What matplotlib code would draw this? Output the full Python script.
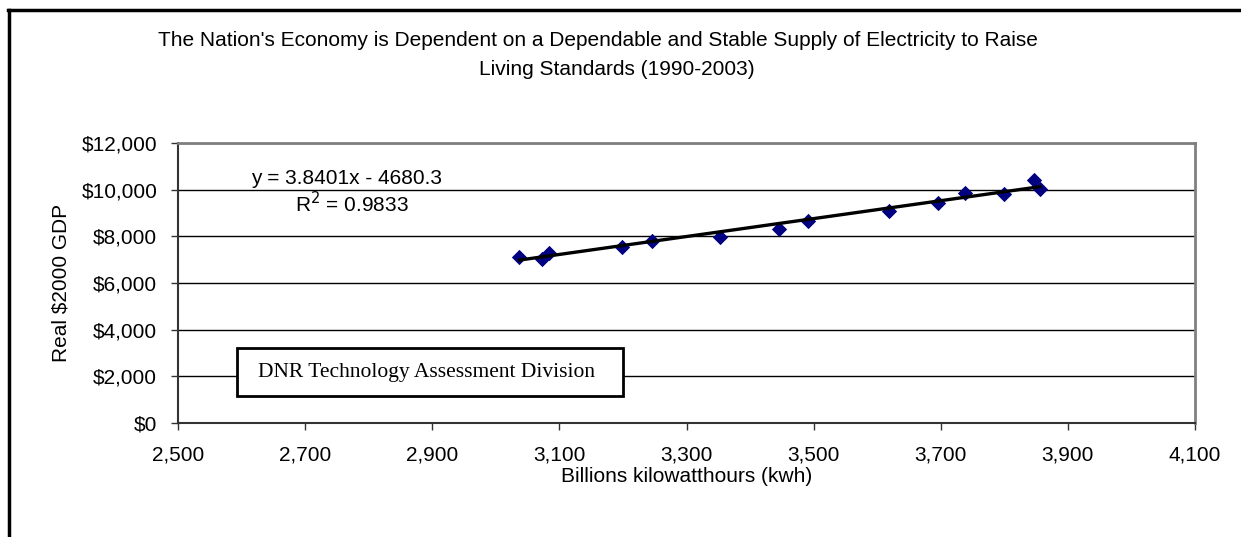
import numpy as np
import matplotlib
matplotlib.use("Agg")
import matplotlib.pyplot as plt
from matplotlib.ticker import FuncFormatter
from matplotlib.lines import Line2D
from matplotlib.patches import Rectangle

# %% data, 1990-2003
kwh = [3037, 3072, 3083, 3198, 3246, 3353, 3445, 3491, 3619, 3695, 3800, 3738, 3856, 3847]
gdp = [7127, 7042, 7272, 7557, 7800, 7971, 8314, 8671, 9100, 9441, 9800, 9871, 10014, 10414]

slope = 3.8401
intercept = -4680.3
r2 = 0.9833

xticks = [2500, 2700, 2900, 3100, 3300, 3500, 3700, 3900, 4100]
yticks = [0, 2000, 4000, 6000, 8000, 10000, 12000]

title1 = "The Nation's Economy is Dependent on a Dependable and Stable Supply of Electricity to Raise"
title2 = "Living Standards (1990-2003)"
xlabel = "Billions kilowatthours (kwh)"
ylabel = "Real $2000 GDP"
note = "DNR Technology Assessment Division"

# %% figure
plt.rcParams['font.family'] = ['Liberation Sans', 'DejaVu Sans']
fs = 15
W, H = 1241, 537
fig = plt.figure(figsize=(W / 100, H / 100), dpi=100)
ax = fig.add_axes([178 / W, 1 - 423 / H, (1195 - 178) / W, (423 - 143) / H])

ax.scatter(kwh, gdp, marker='D', s=7.8 ** 2, color='#000080', zorder=3, linewidths=0)

xs = np.array([min(kwh), max(kwh)])
ax.plot(xs, slope * xs + intercept, color='black', lw=2.4, zorder=4)

ax.set_xlim(xticks[0], xticks[-1])
ax.set_ylim(yticks[0], yticks[-1])
ax.set_xticks(xticks)
ax.set_yticks(yticks)
ax.xaxis.set_major_formatter(FuncFormatter(lambda v, p: f"{v:,.0f}"))
ax.yaxis.set_major_formatter(FuncFormatter(lambda v, p: f"${v:,.0f}"))
ax.tick_params(axis='both', direction='out', length=5, width=1, color='#333333', labelsize=fs)
ax.tick_params(axis='x', pad=11)
ax.tick_params(axis='y', pad=10)
ax.yaxis.grid(True, color='black', lw=1)
ax.set_axisbelow(True)

for s in ['left', 'bottom']:
    ax.spines[s].set_color('#333333')
    ax.spines[s].set_linewidth(1.5)
for s in ['top', 'right']:
    ax.spines[s].set_color('#808080')
    ax.spines[s].set_linewidth(2)

ax.set_xlabel(xlabel, fontsize=fs, labelpad=2)
ax.set_ylabel(ylabel, fontsize=fs, labelpad=8)

# trendline label
ax.text(0.166, 0.855, f"y = {slope}x - {intercept * -1}", transform=ax.transAxes,
        ha='center', va='baseline', fontsize=fs)
ax.text(0.171, 0.752, f"R$^2$ = {r2}", transform=ax.transAxes,
        ha='center', va='baseline', fontsize=fs)

# note box
box = Rectangle((237 / W, 1 - 396 / H), (623 - 237) / W, 48 / H, transform=fig.transFigure,
                facecolor='white', edgecolor='black', lw=2, zorder=5)
fig.add_artist(box)
fig.text(427 / W, 1 - 372 / H, note, ha='center', va='center', fontsize=15.5,
         family='Liberation Serif', zorder=6)

fig.text(598 / W, 1 - 46 / H, title1, ha='center', va='baseline', fontsize=fs)
fig.text(617 / W, 1 - 75 / H, title2, ha='center', va='baseline', fontsize=fs)

# outer chart frame (cut off at right and bottom)
fig.add_artist(Line2D([9 / W, 9 / W], [0, 1 - 10 / H], color='black', lw=2.5, transform=fig.transFigure))
fig.add_artist(Line2D([8 / W, 1], [1 - 10 / H, 1 - 10 / H], color='black', lw=2.5, transform=fig.transFigure))

fig.savefig("out.png", dpi=100)
